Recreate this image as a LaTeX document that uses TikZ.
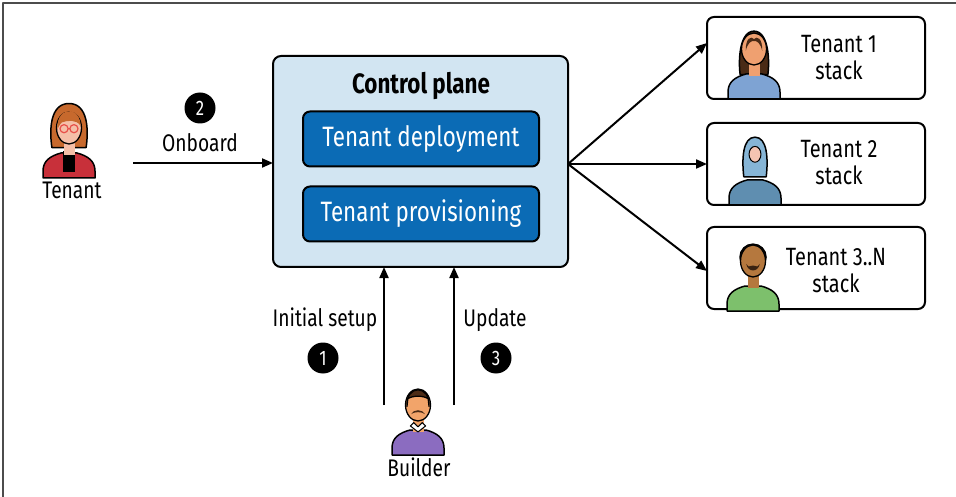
\documentclass[tikz,border=0pt]{standalone}
\usepackage{fontspec}
\setmainfont{Fira Sans}[FakeStretch=0.8]
\usetikzlibrary{arrows.meta,calc}

\definecolor{cpfill}{HTML}{D2E5F2}
\definecolor{cpblue}{HTML}{0B6BB5}
\definecolor{hairA}{HTML}{C7692D}
\definecolor{jacketA}{HTML}{C8303A}
\definecolor{skinA}{HTML}{F5BFA8}
\definecolor{glassA}{HTML}{E8504A}
\definecolor{shirtB}{HTML}{8B6CC0}
\definecolor{skinB}{HTML}{F2A46A}
\definecolor{hairB}{HTML}{4B2B16}
\definecolor{hairC}{HTML}{4A2A15}
\definecolor{skinC}{HTML}{EFA070}
\definecolor{shirtC}{HTML}{7EA3D3}
\definecolor{hijabD}{HTML}{86B5D6}
\definecolor{robeD}{HTML}{5F8EB0}
\definecolor{skinD}{HTML}{F4C4B2}
\definecolor{hairE}{HTML}{3A2312}
\definecolor{skinE}{HTML}{B5783E}
\definecolor{shirtE}{HTML}{7DC06C}

\tikzset{
  pics/torso/.style={code={
    \draw[fill=#1, line width=1.5] (-26,52) -- (-26,45) .. controls (-26,35) and (-19,30) .. (-8,27)
      -- (8,27) .. controls (19,30) and (26,35) .. (26,45) -- (26,52) -- cycle;}},
  pics/headshape/.style={code={
    \draw[fill=#1, line width=1.3] (0,2) ellipse [x radius=12.5, y radius=16];}},
  pics/neck/.style={code={\fill[#1] (-5.5,12) rectangle (5.5,29);}},
  % tenant with red jacket and glasses
  pics/tenantred/.style={code={
    \draw[fill=hairA, line width=1.5] (-19,24) .. controls (-22,4) and (-21,-25) .. (0,-25)
      .. controls (21,-25) and (22,4) .. (19,24) -- cycle;
    \pic{torso=jacketA};
    \fill[black] (-7,28) rectangle (7,51);
    \pic{neck=skinA};
    \pic{headshape=skinA};
    \fill[hairA] (-13,4) .. controls (-13.5,-12) and (-6,-16.5) .. (2,-16.5) .. controls (9,-15.5) and (13,-8) .. (13,0)
      .. controls (8,-8) and (-2,-6) .. (-8,-4) .. controls (-10,-2) .. (-13,4) -- cycle;
    \draw[glassA, line width=1.2] (-5.5,3) circle [radius=4.5] (5.5,3) circle [radius=4.5] (-1,3) -- (1,3);
  }},
  % builder with purple shirt and moustache
  pics/builder/.style={code={
    \pic{torso=shirtB};
    \pic{neck=skinB};
    \draw[fill=white, line width=1] (-9,27) -- (0,34) -- (9,27) -- (5,23) -- (0,28) -- (-5,23) -- cycle;
    \pic{headshape=skinB};
    \draw[fill=hairB, line width=1.3] (-13,4) .. controls (-14.5,-22) and (14.5,-22) .. (13,4)
      -- (12,-5) .. controls (6,-9) and (-6,-9) .. (-12,-5) -- cycle;
    \fill[hairB] (-8,13) .. controls (-5,7) and (5,7) .. (8,13) .. controls (4,10) and (-4,10) .. (-8,13) -- cycle;
  }},
  % tenant with long hair
  pics/longhair/.style={code={
    \draw[fill=hairC, line width=1.5] (-21,42) .. controls (-24,20) and (-22,-24) .. (0,-24)
      .. controls (22,-24) and (24,20) .. (21,42) -- cycle;
    \pic{torso=shirtC};
    \pic{neck=skinC};
    \pic{headshape=skinC};
    \fill[hairC] (-12.5,6) .. controls (-13,-14) and (-4,-17) .. (0,-12) .. controls (4,-17) and (13,-14) .. (12.5,6)
      .. controls (10,-6) and (4,-10) .. (0,-9) .. controls (-4,-10) and (-10,-6) .. (-12.5,6) -- cycle;
  }},
  % tenant with hijab
  pics/hijab/.style={code={
    \pic{torso=robeD};
    \draw[fill=hijabD, line width=1.5] (-17,36) .. controls (-20,10) and (-19,-24) .. (0,-24)
      .. controls (19,-24) and (20,10) .. (17,36) -- cycle;
    \draw[fill=skinD, line width=1] (0,2) ellipse [x radius=9, y radius=12];
  }},
  % tenant with afro and beard
  pics/afro/.style={code={
    \draw[fill=hairE, line width=1.5] (0,-3) circle [radius=21];
    \pic{torso=shirtE};
    \pic{neck=skinE};
    \pic{headshape=skinE};
    \fill[hairE] (-11,8) .. controls (-8,22) and (8,22) .. (11,8) -- (7,12) .. controls (3,10) and (-3,10) .. (-7,12) -- cycle;
  }},
  txt/.style={font=\fontsize{24}{27}\selectfont, inner sep=0pt, align=center},
  stacktxt/.style={font=\fontsize{25}{27}\selectfont, inner sep=0pt, align=center},
  arr/.style={line width=2, -{Triangle[length=11pt,width=9pt]}},
  numdot/.style={circle, fill=black, text=white, minimum size=31pt, inner sep=0pt,
    font=\fontsize{21}{21}\selectfont},
  cpbox/.style={draw, line width=2, fill=cpfill, rounded corners=8, inner sep=0pt, outer sep=0pt},
  innerbox/.style={draw, line width=2, fill=cpblue, text=white, rounded corners=7,
    minimum width=236, minimum height=55, inner sep=0pt, outer sep=0pt,
    font=\fontsize{28}{30}\selectfont},
  stackbox/.style={draw, line width=2, rounded corners=7, minimum width=218, minimum height=82,
    inner sep=0pt, outer sep=0pt},
}

\begin{document}
\begin{tikzpicture}[x=1pt, y=-1pt, line join=round]
\useasboundingbox (0,0) rectangle (956,497);
% frame edges
\draw[line width=2, black!70] (3,497) -- (3,3) -- (956,3);

% control plane
\node[cpbox, minimum width=295, minimum height=211, anchor=north west] (cp) at (273,56) {};
\node[txt, font=\fontsize{28}{30}\selectfont\bfseries] (cptitle) at (421,86) {Control plane};
\node[innerbox] (dep) at (421,139) {Tenant deployment};
\node[innerbox] (prov) at (421,214) {Tenant provisioning};

% tenant stacks
\node[stackbox] (t1) at (816,58) {};
\node[stackbox] (t2) at (816,164) {};
\node[stackbox] (t3) at (816,268) {};
\node[stacktxt] (t1txt) at (839,58) {Tenant 1\\stack};
\node[stacktxt] (t2txt) at (839,163) {Tenant 2\\stack};
\node[stacktxt] (t3txt) at (836,271) {Tenant 3..N\\stack};
\pic[scale=0.66] at (754,47) {longhair};
\pic[scale=0.66] at (755,153) {hijab};
\pic[scale=0.62] at (753,259) {afro};

% tenant and onboarding
\pic[scale=0.9] at (69,126) {tenantred};
\node[txt] (tenant) at (72,190) {Tenant};
\coordinate (tenR) at (133,163);
\draw[arr] (tenR) -- (cp.west |- tenR);
\node[txt] (onboard) at (200,143) {Onboard};
\node[numdot] (n2) at (200,108) {2};

% fan-out to tenant stacks
\coordinate (fan) at (cp.east |- t2.west);
\draw[arr] (fan) -- ([yshift=15pt]t1.west);
\draw[arr] (fan) -- (t2.west);
\draw[arr] (fan) -- ([yshift=-3pt]t3.west);

% builder
\pic[scale=0.85] at (418,403) {builder};
\node[txt] (builder) at (419,467) {Builder};
\coordinate (b1) at (384,405);
\coordinate (b2) at (454,405);
\draw[arr] (b1) -- (b1 |- cp.south);
\draw[arr] (b2) -- (b2 |- cp.south);
\node[txt] (setup) at (325,320) {Initial setup};
\node[numdot] (n1) at (323,358) {1};
\node[txt] (update) at (495,320) {Update};
\node[numdot] (n3) at (496,358) {3};
\end{tikzpicture}
\end{document}
